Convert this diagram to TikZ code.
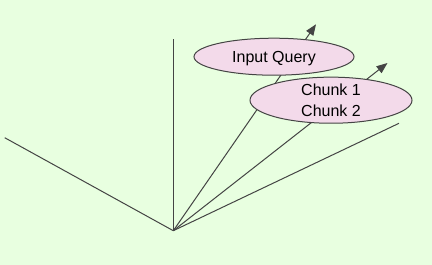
\documentclass[tikz,border=0pt]{standalone}
\usepackage{fontspec}
\setmainfont{Liberation Sans}
\usetikzlibrary{shapes.geometric,arrows.meta}
\definecolor{bggreen}{RGB}{232,255,224}
\definecolor{pinkfill}{RGB}{243,218,234}
\definecolor{linegray}{RGB}{68,68,68}
\begin{document}
\begin{tikzpicture}[x=1pt,y=-1pt,
  vec/.style={draw=linegray,line width=1pt},
  arr/.style={vec,-{Triangle[length=11pt,width=8.5pt]}},
  blob/.style={ellipse,draw=linegray,line width=1pt,fill=pinkfill,inner sep=0pt,
    font=\fontsize{16}{21}\selectfont,text=black,align=center,text depth=0pt}]
\fill[bggreen] (0,0) rectangle (432,265);
\useasboundingbox (0,0) rectangle (432,265);
\coordinate (O) at (173.3,230.7);
\coordinate (L) at (4.7,137.7);
\coordinate (U) at (173.3,39);
\coordinate (Q) at (316,24.3);
\coordinate (C) at (387.5,63);
\coordinate (R) at (399,123.3);
\draw[vec] (O) -- (L);
\draw[vec] (O) -- (U);
\draw[vec] (O) -- (R);
\draw[arr] (O) -- (Q);
\draw[arr] (O) -- (C);
\node[blob,minimum width=160pt,minimum height=37pt] (iq) at (274,56.7) {Input Query};
\node[blob,minimum width=162pt,minimum height=38pt] (ch) at (331,100.2) {Chunk 1\\Chunk 2};
\end{tikzpicture}
\end{document}
